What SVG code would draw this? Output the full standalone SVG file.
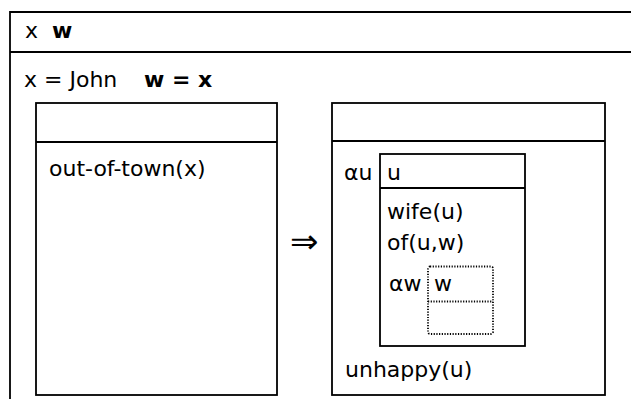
<svg xmlns="http://www.w3.org/2000/svg" width="631" height="399" viewBox="0 0 631 399">
<style>
  .box { fill: none; stroke: #000; stroke-width: 1.8; }
  .dot { fill: none; stroke: #000; stroke-width: 1.8; stroke-dasharray: 1.2 1.5; }
  text { font-family: "DejaVu Sans", sans-serif; font-size: 22px; fill: #000; }
  .b { font-weight: bold; }
  .arr { font-size: 34px; }
</style>
<rect width="631" height="399" fill="#fff"/>
<g id="outer">
  <path class="box" d="M10,402 V12 H634 M10,52 H634"/>
  <text x="25" y="38">x</text>
  <text x="52" y="38" class="b">w</text>
  <text x="24" y="87">x = John</text>
  <text x="144" y="87" class="b">w = x</text>
</g>
<g id="antecedent">
  <rect class="box" x="36" y="103" width="241" height="292"/>
  <path class="box" d="M36,142 H277"/>
  <text x="49" y="176">out-of-town(x)</text>
</g>
<g id="connectors">
  <text x="290" y="253" class="arr">⇒</text>
</g>
<g id="consequent">
  <rect class="box" x="332" y="103" width="273" height="292"/>
  <path class="box" d="M332,141 H605"/>
  <text x="345" y="377">unhappy(u)</text>
</g>
<g id="u-box">
  <text x="344" y="180">αu</text>
  <rect class="box" x="380" y="154" width="145" height="192"/>
  <path class="box" d="M380,188 H525"/>
  <text x="387" y="180">u</text>
  <text x="387" y="219">wife(u)</text>
  <text x="387" y="250">of(u,w)</text>
</g>
<g id="w-box">
  <text x="389" y="291">αw</text>
  <rect class="dot" x="428" y="266.5" width="65" height="67.5" rx="2"/>
  <path class="dot" d="M428,301.5 H493"/>
  <text x="434" y="291">w</text>
</g>
</svg>
